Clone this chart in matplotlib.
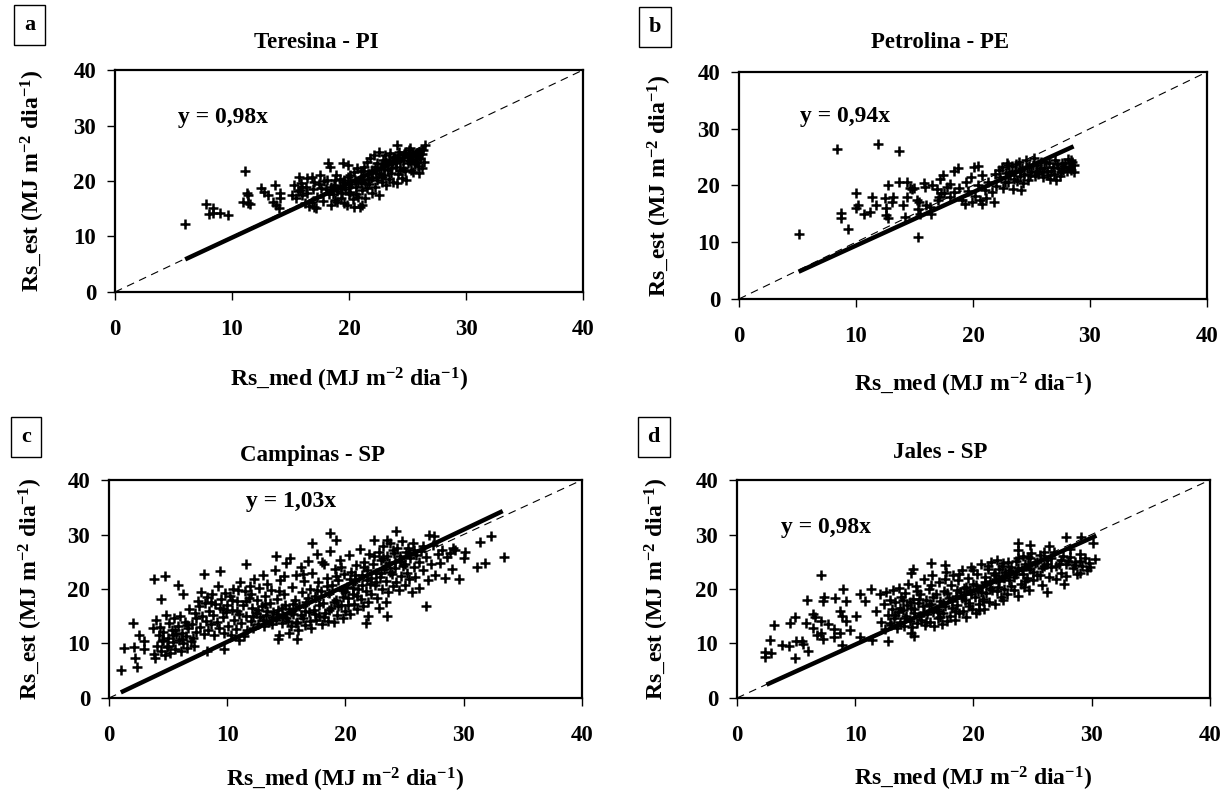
import numpy as np
import matplotlib
matplotlib.use("Agg")
import matplotlib.pyplot as plt

plt.rcParams['font.family'] = ['Liberation Serif', 'DejaVu Serif']
plt.rcParams['font.weight'] = 'bold'
plt.rcParams['mathtext.fontset'] = 'custom'
plt.rcParams['mathtext.rm'] = 'Liberation Serif:bold'
plt.rcParams['mathtext.bf'] = 'Liberation Serif:bold'
plt.rcParams['mathtext.default'] = 'rm'

# ---- data (Rs_med, Rs_est) ----
a_pts = [(6.0,12.2),(7.8,15.8),(8.4,15.2),(8.0,14.0),(8.4,14.3),(9.0,14.2),(9.7,13.8),(11.1,21.8),
         (10.9,16.2),(11.4,16.0),(11.4,17.5),(11.3,17.9),(11.5,15.9),(12.5,18.8),(12.7,18.1),(13.1,17.5),
         (13.7,19.2),(14.1,17.8),(14.1,17.0),(13.5,16.3),(13.8,15.7),(14.0,15.1),
         (15.1,17.5),(15.3,19.3),(15.5,16.9),(15.6,18.2),(15.7,20.8),(15.8,18.4),(15.9,19.6),(16.0,17.4),
         (16.2,16.0),(16.3,19.0),(16.4,20.5),(16.4,17.8),(16.6,15.5),(16.8,20.8),(16.8,16.3),(16.9,18.6),
         (17.0,15.4),(17.0,19.8),(17.2,15.1),(17.3,17.2),(17.5,21.1),(17.6,18.8),(17.8,16.4),(17.9,20.0),
         (18.1,20.2),(18.2,23.2),(18.3,17.6),(18.4,22.6),(18.5,15.7),(18.5,19.0),(18.7,19.3),(18.8,16.5),
         (18.9,21.0),(19.0,16.3),(19.0,18.2),(19.2,20.4),(19.3,17.0),(19.5,23.2),(19.5,19.8),(19.6,16.1),
         (19.7,18.5),(19.8,15.7),(19.9,22.9),(19.9,20.8),(20.0,17.6),(20.1,21.1),(20.1,18.1),(20.2,19.4),
         (20.3,16.8),(20.4,15.4),(20.5,20.2),(20.6,18.9),(20.7,22.3),(20.8,17.2),(20.9,15.4),(21.0,19.6),
         (21.0,21.8),(21.1,15.7),(21.1,18.3),(21.2,20.2),(21.3,22.6),(21.4,17.0),(21.5,23.5),(21.5,18.7),
         (21.6,21.2),(21.7,19.5),(21.8,24.2),(21.9,20.6),(22.0,22.0),(22.0,17.9),(22.1,24.7),(22.2,19.0),
         (22.3,21.5),(22.4,23.2),(22.4,20.2),(22.6,25.3),(22.6,17.5),(22.7,22.4),(22.8,19.8),(22.9,23.8),
         (23.0,21.0),(23.1,24.6),(23.2,23.5),(23.2,19.3),(23.3,22.0),(23.4,20.4),(23.5,25.0),(23.6,21.5),
         (23.7,23.0),(23.8,19.9),(23.9,24.2),(24.0,22.6),(24.1,26.5),(24.1,19.7),(24.2,21.3),(24.3,25.2),
         (24.4,23.6),(24.5,20.5),(24.6,22.4),(24.7,24.8),(24.8,21.8),(24.9,20.2),(25.0,23.2),(25.1,25.6),
         (25.2,25.9),(25.3,22.0),(25.4,24.0),(25.5,21.7),(25.6,23.0),(25.7,25.0),(25.8,24.3),(25.9,22.7),
         (26.0,21.5),(26.1,24.0),(26.2,22.3),(26.3,25.6),(26.5,26.5),(26.4,23.5),
         (18.0,18.6),(18.6,17.6),(19.2,18.8),(19.6,20.2),(20.0,19.0),(20.4,21.6),(20.8,19.8),(21.2,21.8),
         (21.6,20.4),(22.0,20.8),(22.2,22.6),(22.6,21.2),(22.8,23.0),(23.0,22.2),(23.4,23.8),(23.6,22.4),
         (23.8,24.4),(24.0,23.2),(24.2,24.6),(24.4,22.0),(24.6,23.8),(24.8,25.2),(25.0,24.4),(25.2,23.6),
         (25.4,25.0),(25.6,24.6),(25.8,23.4),(26.0,25.2),(26.2,24.8),(19.4,17.8),(20.6,17.6),(21.4,19.6),
         (22.8,20.8),(16.0,19.0),(17.4,19.4),(18.8,20.2)]

b_pts = [(5.1,11.4),(8.4,26.4),(11.9,27.3),(13.7,26.0),(8.7,15.1),(8.7,14.2),(9.3,12.3),(10.0,18.7),
         (10.0,16.0),(10.2,16.6),(10.7,15.0),(11.2,15.3),(11.4,17.9),(11.7,16.5),(12.7,20.0),(12.5,17.7),
         (12.6,16.0),(12.6,14.8),(12.7,14.2),(13.2,17.9),(13.1,17.0),(13.7,20.6),(14.4,20.6),(14.0,16.6),
         (14.4,17.9),(14.6,19.6),(14.8,19.3),(15.0,19.6),(14.2,14.4),(15.3,10.9),(15.2,17.4),(15.3,15.9),
         (15.4,17.0),(15.8,20.5),(15.9,19.7),(15.5,14.9),(16.0,16.6),(16.4,15.0),(16.3,16.2),(16.5,20.0),
         (16.9,19.4),(17.0,17.4),(17.1,17.9),(17.3,18.6),(17.2,21.2),(17.4,21.8),(17.5,18.6),(17.8,19.8),
         (18.0,20.3),(18.4,22.5),(18.7,23.1),(18.0,18.0),(18.4,18.9),(18.8,19.5),(19.1,17.4),(19.3,16.8),
         (19.4,20.6),(19.8,21.5),(20.1,23.2),(20.4,23.5),(19.6,19.0),(19.9,17.0),(20.2,18.2),(20.4,20.1),
         (20.6,17.5),(20.8,16.7),(20.8,21.8),(21.0,19.2),(21.1,17.8),(21.3,20.6),(21.6,18.8),(21.8,17.0),
         (21.9,22.0),(22.0,19.9),(22.3,21.4),(22.5,23.2),(22.6,19.5),(22.8,22.2),(22.9,24.0),(23.0,20.6),
         (23.2,21.8),(23.3,23.5),(23.4,19.3),(23.6,22.6),(23.8,20.8),(23.9,24.2),(24.0,21.6),(24.1,19.2),
         (24.2,23.0),(24.4,22.1),(24.5,24.5),(24.7,21.0),(24.8,23.4),(25.0,22.3),(25.2,24.8),(25.3,21.6),
         (25.5,23.6),(25.6,22.0),(25.8,24.2),(26.0,21.4),(26.1,23.1),(26.3,22.5),(26.5,24.0),(26.6,21.2),
         (26.8,23.3),(26.9,22.0),(27.0,24.5),(27.1,20.9),(27.3,23.0),(27.5,22.3),(27.6,24.0),(27.8,23.5),
         (28.0,22.6),(28.1,24.6),(28.3,23.2),(28.4,22.8),(28.5,24.2),(28.6,23.6),
         (22.2,22.8),(22.7,20.6),(23.1,22.4),(23.5,21.2),(23.7,23.8),(24.3,20.4),(24.6,23.2),(24.9,21.8),
         (25.1,23.6),(25.4,22.6),(25.7,23.0),(25.9,22.4),(26.2,24.2),(26.4,21.8),(26.7,22.6),(27.2,23.8),
         (27.4,21.6),(27.7,22.8),(27.9,24.0),(28.2,23.0),(28.4,24.4),(28.6,22.4),(23.0,23.6),(24.0,22.8)]

c_pts = [(1.0,5.2),(1.3,9.1),(2.0,13.8),(2.1,9.4),(2.2,7.3),(2.4,5.7),(2.5,11.6),(3.0,9.0),(3.0,10.4),
         (3.8,21.8),(4.7,22.3),(4.4,18.1),(5.8,20.7),(6.3,19.0),(8.0,22.7),(9.4,23.3),(11.6,24.6),
         (14.1,26.1),(17.2,28.4),(18.7,30.3),(19.2,29.0),(23.5,29.0),(24.3,30.7),(27.5,29.7),(27.1,30.0),
         (29.1,27.6),(30.1,26.8),(30.0,25.6),(29.6,21.8),(31.4,28.6),(32.3,29.7),(31.1,24.1),(31.8,24.7),
         (33.4,25.9),(26.8,16.9),(21.7,13.8),(21.9,15.0),(22.8,16.6),(23.5,15.0),(23.4,17.7),(9.7,8.9),
         (8.3,8.6),(14.3,10.8),(15.9,10.9),(15.2,11.9),
         (3.7,12.8),(3.8,8.0),(3.9,7.3),(4.0,14.3),(4.1,9.6),(4.2,11.5),(4.3,13.0),(4.4,8.6),(4.5,10.4),
         (4.6,12.2),(4.7,7.8),(4.8,15.2),(4.9,9.4),(5.0,11.0),(5.1,13.8),(5.2,8.3),(5.3,12.5),(5.4,10.2),
         (5.5,14.6),(5.6,9.0),(5.7,11.8),(5.8,13.2),(5.9,10.7),(6.0,15.0),(6.1,8.6),(6.2,12.0),(6.3,10.0),
         (6.4,14.0),(6.5,11.3),(6.6,9.2),(6.7,12.8),(6.8,16.4),(6.9,10.5),(7.0,13.6),(7.1,11.0),(7.2,9.5),
         (7.3,15.6),(7.4,12.2),(7.5,17.8),(7.6,16.8),(7.7,13.0),(7.8,19.5),(7.9,15.0),(8.0,11.8),(8.1,17.5),
         (8.2,14.2),(8.3,18.6),(8.4,12.5),(8.5,16.0),(8.6,13.6),(8.7,19.0),(8.8,15.2),(8.9,11.6),(9.0,17.2),
         (9.1,14.0),(9.2,20.5),(9.3,12.8),(9.4,16.5),(9.5,18.2),(9.6,14.8),(9.7,12.0),(9.8,19.3),(9.9,15.8),
         (10.0,17.0),(10.1,13.2),(10.2,18.8),(10.3,11.5),(10.4,16.2),(10.5,20.0),(10.6,14.4),(10.7,12.6),
         (10.8,17.8),(10.9,19.8),(11.0,15.4),(11.0,10.6),(11.1,21.2),(11.2,13.8),(11.3,17.0),(11.4,11.4),
         (11.5,19.6),(11.6,15.0),(11.7,12.4),(11.8,18.4),(11.9,20.6),(12.0,14.2),(12.1,16.6),(12.2,12.8),
         (12.3,21.8),(12.4,15.6),(12.5,18.0),(12.6,13.5),(12.7,20.2),(12.8,14.8),(12.9,16.8),(13.0,22.6),
         (13.1,13.2),(13.2,18.8),(13.3,15.2),(13.4,21.0),(13.5,14.0),(13.6,17.4),(13.7,19.8),(13.8,13.6),
         (13.9,15.8),(14.0,23.5),(14.1,14.4),(14.2,18.2),(14.3,16.2),(14.4,11.6),(14.5,21.6),(14.6,13.8),
         (14.7,15.0),(14.8,19.0),(14.9,17.0),(15.0,24.8),(15.1,14.2),(15.2,16.4),(15.3,25.6),(15.4,13.2),
         (15.5,20.4),(15.6,15.4),(15.7,18.0),(15.8,22.6),(15.9,14.0),(16.0,12.4),(16.1,16.8),(16.2,24.0),
         (16.3,19.4),(16.4,14.6),(16.5,21.5),(16.6,13.4),(16.7,17.6),(16.8,25.2),(16.9,15.8),(17.0,20.0),
         (17.1,12.8),(17.2,23.0),(17.3,16.2),(17.4,18.8),(17.5,14.4),(17.6,26.4),(17.7,21.2),(17.8,15.0),
         (17.9,19.6),(18.0,13.6),(18.1,17.4),(18.2,24.6),(18.3,15.6),(18.4,22.0),(18.5,14.2),(18.6,19.2),
         (18.7,27.0),(18.8,16.6),(18.9,20.8),(19.0,14.0),(19.1,23.6),(19.2,18.0),(19.3,15.2),(19.4,21.6),
         (19.5,25.4),(19.6,17.0),(19.7,19.8),(19.8,14.6),(19.9,22.8),(20.0,16.0),(20.1,20.4),(20.2,18.4),
         (20.3,26.2),(20.4,15.4),(20.5,23.2),(20.6,19.0),(20.7,17.2),(20.8,21.4),(20.9,24.4),(21.0,16.4),
         (21.1,20.0),(21.2,27.4),(21.3,18.2),(21.4,22.6),(21.5,16.8),(21.6,25.0),(21.7,19.6),(21.8,23.4),
         (21.9,17.6),(22.0,26.4),(22.1,21.0),(22.2,19.0),(22.3,24.6),(22.4,29.0),(22.5,20.8),(22.6,23.0),
         (22.7,18.4),(22.8,26.8),(22.9,22.2),(23.0,25.4),(23.1,20.0),(23.2,27.8),(23.3,23.6),(23.4,21.4),
         (23.5,26.0),(23.6,19.4),(23.7,24.8),(23.8,28.4),(23.9,22.8),(24.0,20.6),(24.1,26.6),(24.2,23.8),
         (24.3,21.2),(24.4,27.6),(24.5,19.8),(24.6,25.2),(24.7,22.4),(24.8,28.8),(24.9,24.2),(25.0,20.8),
         (25.1,26.8),(25.2,23.0),(25.3,27.6),(25.4,21.8),(25.5,25.6),(25.6,19.4),(25.7,28.4),(25.8,24.0),
         (25.9,22.2),(26.0,26.2),(26.2,20.2),(26.4,27.0),(26.6,23.4),(26.8,25.8),(27.0,21.6),(27.2,24.6),
         (27.4,28.0),(27.6,22.6),(27.8,26.4),(28.0,24.8),(28.2,27.2),(28.4,22.0),(28.6,25.8),(28.8,26.6),
         (29.0,23.6),(29.3,27.2),
         (12.2,15.0),(12.6,16.2),(13.0,14.4),(13.4,16.0),(13.8,14.8),(14.2,15.4),(14.6,16.6),(15.0,14.6),
         (15.4,15.8),(15.8,13.8),(16.2,15.2),(16.6,16.0),(17.0,14.2),(17.4,15.4),(17.8,17.0),(18.2,14.8),
         (18.6,16.2),(19.0,17.6),(19.4,16.8),(19.8,18.6),(20.2,17.0),(20.6,20.2),(21.0,18.8),(21.4,20.8),
         (21.8,21.6),(22.2,22.0),(22.6,21.2),(23.0,23.0),(23.4,24.2),(23.8,23.2),(24.2,25.0),(24.6,26.0),
         (25.0,24.6),(25.4,26.6),(25.8,27.2),(26.2,25.0),(26.6,27.8),(9.6,16.4),(10.4,18.0),(10.8,16.0),
         (11.6,17.8),(12.0,19.0),(8.6,17.6),(7.4,14.6),(6.6,13.4),(5.6,12.4),(5.0,9.6),(5.4,11.6),
         (6.2,10.8),(4.6,10.6),(16.8,18.4),(17.6,19.8),(18.4,20.6),(19.2,22.4),(20.0,19.4),(20.8,22.6),
         (21.6,24.0),(22.4,26.0),(23.2,25.6),(24.0,27.2),(15.6,17.2),(14.4,19.6),(13.2,17.2),(14.8,22.4),
         (16.4,22.8),(18.0,25.0),(19.6,24.0),(20.4,21.8)]

d_pts = [(2.4,8.5),(2.4,7.6),(2.9,8.2),(2.8,10.6),(3.1,13.4),(3.8,9.7),(4.4,9.6),(4.5,13.7),(4.9,14.9),
         (5.0,10.5),(4.9,7.3),(5.5,10.5),(5.6,9.9),(5.9,18.0),(6.0,8.7),(5.8,13.8),(6.4,15.5),(6.6,14.9),
         (6.4,12.8),(6.8,11.5),(7.1,22.6),(7.3,17.8),(7.4,18.5),(7.1,11.9),(7.3,10.9),(7.1,14.2),(7.7,13.6),
         (8.2,11.2),(8.3,18.4),(8.7,12.0),(9.0,20.0),(9.2,17.8),(8.7,16.0),(8.9,15.1),(9.2,14.2),(9.6,12.4),
         (8.9,9.7),(8.2,12.6),(10.1,15.0),(10.4,19.0),(10.4,11.2),(10.8,17.8),(11.3,20.0),(11.4,10.6),
         (11.8,16.0),(12.1,19.0),(12.8,10.4),(12.9,13.7),(14.7,23.0),(14.9,23.6),(14.7,11.9),(15.0,11.3),
         (16.4,24.7),(17.6,24.4),(23.8,28.4),(23.8,27.2),(24.8,28.0),(26.4,27.8),(27.8,29.6),(29.1,29.6),
         (30.1,28.4),(30.3,25.5),(29.9,24.0),(29.0,22.9),(27.7,21.0),(26.2,19.4),(23.8,18.7),(22.5,17.9),
         (20.5,16.1),
         (12.2,14.0),(12.4,17.2),(12.5,12.6),(12.6,19.4),(12.8,15.2),(12.9,18.0),(13.0,13.4),(13.1,16.4),
         (13.2,19.8),(13.3,14.6),(13.4,17.6),(13.5,12.8),(13.6,15.8),(13.7,20.2),(13.8,14.0),(13.9,18.6),
         (14.0,16.2),(14.1,13.2),(14.2,19.2),(14.3,15.0),(14.4,17.0),(14.5,21.0),(14.6,14.2),(14.7,16.6),
         (14.8,13.0),(14.9,18.2),(15.0,15.6),(15.1,20.6),(15.2,13.8),(15.3,17.4),(15.4,15.0),(15.5,19.0),
         (15.6,14.4),(15.7,16.8),(15.8,21.8),(15.9,13.4),(16.0,18.0),(16.1,15.4),(16.2,20.0),(16.3,14.0),
         (16.4,17.2),(16.5,22.6),(16.6,15.8),(16.7,13.2),(16.8,19.0),(16.9,16.4),(17.0,14.6),(17.1,21.2),
         (17.2,17.8),(17.3,13.6),(17.4,15.6),(17.5,19.6),(17.6,16.8),(17.7,23.2),(17.8,14.2),(17.9,18.4),
         (18.0,15.0),(18.1,20.8),(18.2,16.6),(18.3,22.6),(18.4,14.4),(18.5,18.8),(18.6,17.0),(18.7,21.6),
         (18.8,15.6),(18.9,19.4),(19.0,23.4),(19.1,16.0),(19.2,20.2),(19.3,18.0),(19.4,14.8),(19.5,22.0),
         (19.6,17.4),(19.7,19.8),(19.8,24.0),(19.9,16.4),(20.0,21.0),(20.1,18.6),(20.2,15.6),(20.3,22.8),
         (20.4,19.6),(20.5,17.2),(20.6,24.6),(20.7,20.6),(20.8,18.2),(20.9,16.4),(21.0,22.2),(21.1,19.2),
         (21.2,24.2),(21.3,17.6),(21.4,21.4),(21.5,25.0),(21.6,19.8),(21.7,23.0),(21.8,17.2),(21.9,21.8),
         (22.0,25.4),(22.1,20.4),(22.2,23.6),(22.3,18.6),(22.4,22.4),(22.5,24.8),(22.6,20.0),(22.7,23.2),
         (22.8,19.0),(22.9,25.0),(23.0,21.6),(23.2,24.0),(23.4,19.8),(23.6,22.8),(23.8,25.6),(24.0,21.0),
         (24.1,23.4),(24.2,26.0),(24.3,20.4),(24.4,24.6),(24.5,22.0),(24.6,25.8),(24.7,19.8),(24.8,23.6),
         (24.9,26.6),(25.0,21.6),(25.2,24.8),(25.4,22.6),(25.6,26.2),(25.8,20.8),(26.0,24.2),(26.2,25.4),
         (26.4,22.2),(26.6,24.0),(26.8,26.8),(27.0,21.8),(27.2,24.6),(27.4,23.0),(27.6,26.0),(27.8,22.4),
         (28.0,25.2),(28.2,27.4),(28.4,23.8),(28.6,25.0),(28.8,22.8),(29.0,26.4),(29.2,24.2),(29.4,25.6),
         (29.6,23.4),(29.8,24.8),
         (13.4,15.2),(13.8,16.6),(14.2,14.6),(14.6,17.6),(15.0,16.4),(15.4,18.2),(15.8,15.8),(16.2,17.0),
         (16.6,18.6),(17.0,16.0),(17.4,17.4),(17.8,19.2),(18.2,17.8),(18.6,19.8),(19.0,18.4),(19.4,20.4),
         (19.8,19.0),(20.2,20.8),(20.6,19.4),(21.0,21.2),(21.4,20.2),(21.8,22.6),(22.2,21.4),(22.6,22.0),
         (23.0,23.4),(23.4,22.2),(23.8,23.8),(24.2,22.8),(24.6,24.2),(25.0,23.2),(25.4,25.0),(25.8,23.8),
         (26.2,24.6),(26.6,25.6),(27.0,24.2),(27.4,25.4),(27.8,24.6),(28.2,25.8),(28.6,24.4),(29.0,25.2),
         (16.0,14.0),(17.2,14.8),(18.4,16.0),(19.6,16.8),(20.8,17.8),(22.0,19.6),(23.2,20.6),(24.4,21.4),
         (25.6,22.6),(14.0,18.0),(15.2,19.6),(16.4,20.8),(17.6,21.8),(18.8,22.8),(20.0,23.4),(21.2,23.6),
         (22.4,24.2),(23.6,25.2),(24.8,25.6),(26.0,26.8)]

titles = ['Teresina - PI', 'Petrolina - PE', 'Campinas - SP', 'Jales - SP']
letters = ['a', 'b', 'c', 'd']
slopes = [0.98, 0.94, 1.03, 0.98]
fit_range = [(6.0, 26.5), (5.1, 28.6), (1.0, 33.3), (2.5, 30.4)]
eq_pos = [(9.2, 31.5), (9.1, 32.1), (15.4, 36.0), (7.5, 31.2)]
ticks = [0, 10, 20, 30, 40]

# layout (figure fractions)
ax_rects = [[0.0941, 0.6318, 0.383, 0.2799],
            [0.6047, 0.6230, 0.383, 0.2863],
            [0.0892, 0.1198, 0.387, 0.2749],
            [0.6031, 0.1198, 0.387, 0.2749]]
title_xy = [(0.259, 0.946), (0.769, 0.946), (0.256, 0.426), (0.769, 0.430)]
box_xy = [(0.0241, 0.968), (0.536, 0.966), (0.0213, 0.449), (0.535, 0.449)]
xlab_y = [-0.335, -0.315, -0.310, -0.305]
ylab_x = [-0.145, -0.138, -0.135, -0.139]

fig = plt.figure(figsize=(12.22, 7.93), dpi=100)

for i, pts in enumerate([a_pts, b_pts, c_pts, d_pts]):
    ax = fig.add_axes(ax_rects[i])
    xs = np.array([p[0] for p in pts])
    ys = np.array([p[1] for p in pts])

    ax.plot([0, 40], [0, 40], color='black', lw=0.8, dashes=(7, 5))
    ax.plot(xs, ys, '+', color='black', ms=6.5, mew=1.8, ls='none')
    x0, x1 = fit_range[i]
    ax.plot([x0, x1], [slopes[i] * x0, slopes[i] * x1], color='black', lw=3.2,
            solid_capstyle='butt')

    ax.set_xlim(0, 40)
    ax.set_ylim(0, 40)
    ax.set_xticks(ticks)
    ax.set_yticks(ticks)
    ax.tick_params(direction='out', length=5.5, width=1, labelsize=16.5)
    ax.tick_params(axis='x', pad=14)
    ax.tick_params(axis='y', pad=8)
    for s in ax.spines.values():
        s.set_linewidth(1.6)

    ax.set_xlabel(r'Rs_med (MJ m$^{-2}$ dia$^{-1}$)', fontsize=17, fontweight='bold')
    ax.set_ylabel(r'Rs_est (MJ m$^{-2}$ dia$^{-1}$)', fontsize=17, fontweight='bold')
    ax.xaxis.set_label_coords(0.5, xlab_y[i])
    ax.yaxis.set_label_coords(ylab_x[i], 0.5)

    ex, ey = eq_pos[i]
    ax.text(ex, ey, 'y = %sx' % ('%.2f' % slopes[i]).replace('.', ','),
            ha='center', va='center', fontsize=17, fontweight='bold')

    fig.text(title_xy[i][0], title_xy[i][1], titles[i], ha='center', va='center',
             fontsize=16.5, fontweight='bold')
    fig.text(box_xy[i][0], box_xy[i][1], letters[i], ha='center', va='center',
             fontsize=16, fontweight='bold',
             bbox=dict(boxstyle='square,pad=0.45', fc='white', ec='black', lw=1))

fig.savefig('out.png', dpi=100)
